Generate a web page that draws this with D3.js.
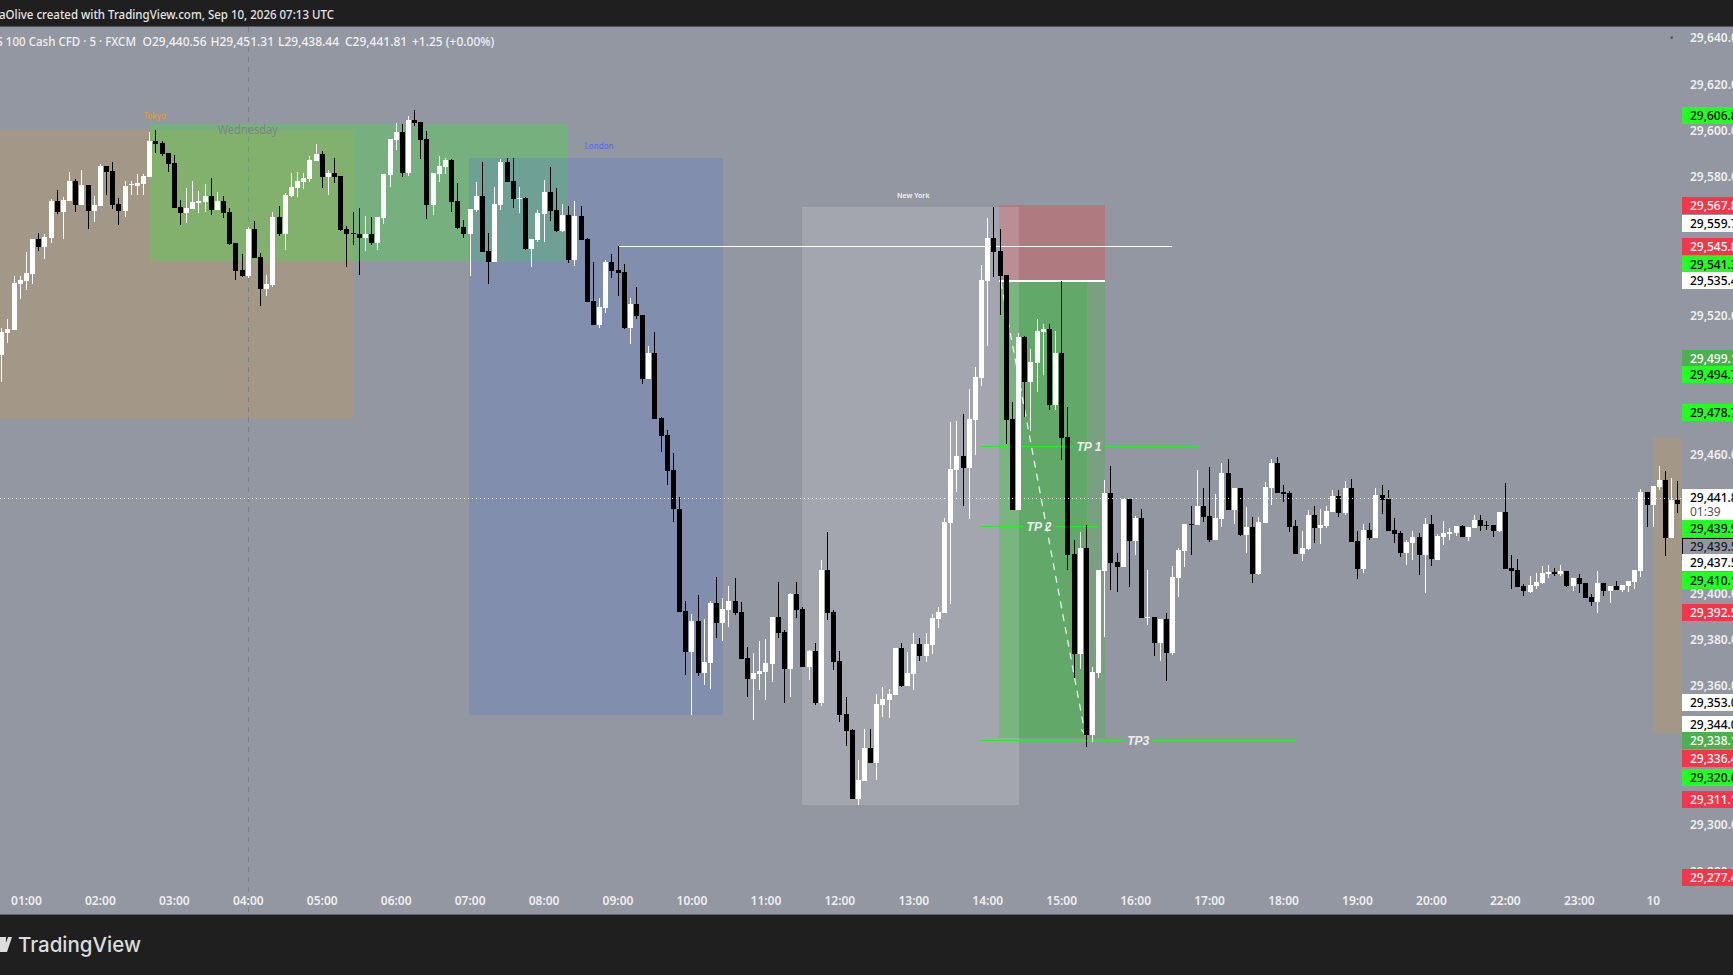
<!DOCTYPE html>
<html>
<head>
<meta charset="utf-8">
<title>US 100 Cash CFD</title>
<script src="https://d3js.org/d3.v7.min.js"></script>
<style>
  html, body { margin: 0; padding: 0; background: #1f1f1f; overflow: hidden; }
  svg { display: block; font-family: "Noto Sans", sans-serif; }
  .axis text { fill: #eeeeee; font-size: 12px; font-weight: 600; font-family: "Noto Sans", sans-serif; }
  .axis .domain { display: none; }
</style>
</head>
<body>
<svg id="chart" width="1733" height="975"></svg>
<script>
// 5 minute bars
var opens = [
29503.0,29512.5,29513.8,29533.7,29535.0,29538.1,29553.1,29549.7,29553.5,29569.6,
29564.8,29569.6,29578.2,29567.8,29576.5,29565.3,29567.4,29584.7,29582.6,29568.3,
29565.3,29576.5,29576.0,29576.9,29580.0,29595.5,29594.6,29590.3,29586.0,29567.0,
29564.4,29566.1,29568.7,29569.1,29571.7,29565.7,29569.6,29564.8,29551.4,29539.8,
29537.2,29557.4,29545.4,29531.5,29533.2,29562.7,29555.3,29571.7,29575.2,29577.8,
29579.1,29586.9,29589.9,29580.0,29581.7,29580.4,29557.4,29555.7,29555.3,29553.5,
29555.3,29551.4,29562.2,29580.8,29595.9,29599.3,29581.7,29604.6,29603.7,29596.3,
29567.8,29581.2,29584.3,29587.3,29569.6,29558.3,29555.3,29565.7,29571.7,29548.0,
29543.2,29567.8,29586.4,29578.2,29570.4,29570.9,29548.8,29552.7,29564.0,29573.5,
29565.7,29556.6,29563.5,29544.1,29563.1,29553.1,29526.4,29516.0,29523.4,29543.2,
29539.8,29538.9,29514.7,29525.1,29520.3,29492.7,29503.9,29475.8,29468.5,29453.4,
29436.5,29392.5,29374.7,29388.1,29365.7,29370.0,29395.9,29387.3,29392.9,29396.8,
29392.0,29372.2,29363.0,29365.2,29366.1,29369.6,29389.9,29383.4,29367.4,29399.8,
29393.3,29368.3,29375.2,29352.7,29410.2,29392.0,29370.9,29348.0,29341.0,29311.2,
29319.0,29333.3,29326.8,29351.8,29354.0,29356.2,29376.5,29360.0,29365.2,29378.1,
29373.0,29377.7,29389.0,29391.6,29430.5,29453.4,29459.4,29454.2,29475.0,29493.2,
29535.0,29553.5,29548.0,29537.6,29475.4,29436.1,29510.8,29491.3,29499.6,29513.0,
29514.3,29481.4,29503.9,29467.6,29417.1,29373.9,29419.7,29338.8,29365.7,29409.7,
29443.4,29413.6,29411.5,29440.8,29422.7,29432.6,29389.4,29389.9,29378.6,29389.0,
29374.3,29406.7,29418.4,29430.0,29429.6,29437.8,29433.5,29423.1,29432.2,29452.1,
29436.1,29445.6,29425.2,29428.7,29408.4,29430.5,29445.6,29456.4,29443.8,29443.4,
29429.1,29417.1,29419.2,29433.9,29428.3,29429.1,29435.2,29442.1,29434.8,29445.6,
29422.7,29410.6,29427.4,29424.0,29442.6,29440.8,29427.4,29426.1,29417.5,29421.8,
29424.4,29416.6,29430.0,29414.5,29424.4,29425.7,29426.1,29429.1,29424.4,29428.3,
29431.8,29429.6,29429.6,29427.0,29435.2,29411.0,29410.2,29403.2,29400.6,29403.2,
29404.5,29408.4,29409.3,29408.4,29409.7,29403.2,29406.7,29404.5,29398.5,29396.3,
29404.5,29401.1,29403.2,29401.5,29403.2,29404.9,29409.7,29443.8,29438.2,29446.0,
29449.0,29424.0,29440.4];
var highs = [
29514.7,29518.6,29537.2,29537.2,29547.5,29553.1,29555.7,29555.3,29570.4,29574.3,
29571.3,29582.1,29579.1,29583.0,29576.5,29571.7,29585.6,29584.7,29586.4,29570.9,
29578.2,29578.2,29581.2,29581.2,29599.3,29600.2,29595.5,29590.3,29589.4,29570.0,
29575.2,29578.2,29573.9,29576.9,29579.5,29573.5,29571.7,29566.5,29551.4,29546.7,
29558.3,29560.9,29547.1,29537.6,29564.8,29567.4,29573.0,29581.7,29582.1,29581.7,
29589.0,29594.2,29591.2,29583.0,29588.1,29580.4,29558.8,29564.8,29566.5,29563.1,
29562.7,29562.7,29581.2,29596.3,29603.3,29602.9,29606.3,29608.9,29603.7,29599.8,
29581.7,29589.0,29588.1,29587.7,29577.3,29561.4,29566.1,29577.8,29586.4,29555.7,
29575.6,29587.7,29588.1,29588.1,29575.6,29571.3,29553.1,29565.7,29578.6,29584.3,
29575.2,29568.3,29567.4,29569.6,29567.4,29553.5,29543.2,29527.6,29544.1,29546.7,
29550.1,29542.4,29527.6,29532.4,29520.3,29506.9,29513.0,29476.3,29470.6,29460.7,
29441.7,29396.8,29391.2,29399.4,29389.0,29396.8,29407.1,29398.1,29403.2,29406.7,
29396.3,29376.9,29374.3,29379.5,29380.3,29389.9,29404.9,29384.2,29400.2,29404.9,
29394.2,29375.6,29378.6,29414.5,29426.5,29392.9,29375.2,29355.3,29341.5,29328.1,
29341.5,29341.5,29356.6,29359.6,29358.7,29376.5,29378.6,29374.7,29382.9,29380.8,
29382.9,29391.2,29394.2,29432.6,29474.1,29474.5,29477.6,29488.3,29497.9,29541.9,
29562.2,29567.0,29557.4,29537.6,29482.7,29512.5,29511.2,29505.6,29518.6,29516.4,
29516.4,29513.4,29535.0,29480.6,29423.1,29426.5,29429.6,29368.3,29410.2,29449.0,
29455.1,29417.5,29440.8,29440.8,29433.5,29436.5,29410.2,29389.9,29389.0,29391.6,
29411.9,29419.7,29430.0,29437.8,29453.4,29445.6,29454.6,29443.0,29456.4,29458.1,
29445.6,29445.6,29437.4,29433.0,29433.0,29448.1,29458.1,29459.0,29446.8,29444.3,
29431.8,29427.0,29436.1,29437.8,29436.5,29437.8,29444.7,29444.7,29448.6,29449.5,
29427.0,29430.0,29430.5,29445.6,29446.8,29444.7,29432.6,29427.0,29423.1,29427.0,
29426.1,29432.6,29433.9,29425.7,29431.3,29428.3,29429.1,29429.6,29428.7,29433.9,
29433.9,29431.3,29429.6,29435.2,29447.7,29416.6,29414.9,29404.1,29407.5,29408.8,
29411.9,29412.4,29411.0,29412.4,29409.7,29406.7,29408.4,29404.5,29399.8,29409.7,
29404.5,29403.2,29405.4,29403.6,29405.4,29410.2,29445.1,29443.8,29446.4,29455.1,
29453.0,29449.9,29448.6];
var lows = [
29491.3,29508.2,29513.8,29527.2,29531.1,29533.7,29548.0,29544.5,29551.4,29564.0,
29553.1,29569.6,29564.8,29567.8,29557.4,29560.5,29567.4,29572.1,29566.1,29559.2,
29562.7,29572.1,29572.1,29572.1,29580.0,29590.3,29589.0,29582.1,29566.5,29559.2,
29560.1,29566.1,29564.4,29564.8,29563.5,29565.7,29562.2,29550.6,29535.4,29536.7,
29536.3,29544.9,29524.2,29528.5,29532.4,29554.4,29548.4,29571.3,29571.3,29574.7,
29577.8,29586.9,29575.2,29572.1,29577.3,29556.6,29541.0,29550.6,29537.6,29548.0,
29550.6,29548.4,29559.6,29575.6,29591.6,29580.0,29580.4,29602.0,29587.7,29561.8,
29563.5,29577.8,29581.2,29564.8,29557.4,29553.5,29537.2,29564.8,29547.5,29533.7,
29543.2,29565.7,29577.8,29566.5,29564.4,29548.4,29541.0,29551.8,29551.8,29560.9,
29556.2,29556.2,29542.8,29541.5,29552.7,29525.9,29516.0,29514.7,29521.2,29536.3,
29528.5,29514.3,29507.8,29518.6,29490.5,29492.7,29475.4,29461.1,29446.8,29430.9,
29392.0,29364.8,29347.5,29364.4,29360.5,29358.7,29380.8,29379.5,29385.5,29390.7,
29371.7,29355.3,29345.4,29358.3,29354.0,29361.7,29380.8,29352.7,29355.3,29389.4,
29368.3,29362.6,29351.8,29351.4,29388.6,29367.0,29344.5,29334.1,29311.2,29308.6,
29319.0,29326.8,29319.4,29346.7,29346.2,29356.2,29359.6,29360.0,29358.3,29370.9,
29370.4,29373.9,29385.1,29391.6,29395.5,29443.8,29437.8,29432.2,29459.8,29489.6,
29506.9,29536.7,29520.3,29464.6,29436.1,29436.1,29476.3,29470.2,29487.0,29494.4,
29479.3,29479.3,29457.7,29410.2,29363.5,29367.4,29333.7,29335.8,29363.5,29381.2,
29401.5,29400.6,29411.5,29402.8,29416.6,29389.4,29386.4,29373.0,29370.9,29362.2,
29373.4,29398.5,29411.5,29416.6,29429.6,29430.9,29422.2,29423.1,29428.7,29436.1,
29430.0,29424.8,29417.5,29404.5,29408.0,29430.5,29438.2,29443.4,29439.5,29426.5,
29417.1,29414.1,29418.8,29421.8,29421.4,29428.3,29435.2,29433.0,29433.9,29422.2,
29406.3,29408.8,29423.1,29424.0,29434.3,29427.0,29421.8,29415.8,29412.4,29414.5,
29408.0,29400.2,29411.9,29414.5,29421.0,29423.1,29424.8,29424.4,29422.7,29428.3,
29427.0,29427.4,29424.4,29426.5,29410.6,29401.9,29402.8,29399.0,29400.2,29401.9,
29404.1,29406.7,29407.5,29407.5,29402.8,29401.1,29400.2,29398.1,29394.6,29391.6,
29399.0,29395.9,29401.5,29400.6,29400.6,29401.9,29407.1,29428.7,29428.7,29444.7,
29416.2,29424.0,29434.8];
var closes = [
29512.9,29514.3,29534.1,29535.4,29538.5,29553.1,29549.7,29554.0,29569.6,29564.8,
29570.0,29578.2,29567.8,29576.5,29565.3,29567.8,29584.7,29582.1,29567.8,29565.3,
29576.0,29576.9,29577.3,29580.4,29595.5,29594.2,29589.9,29585.6,29566.5,29564.4,
29566.5,29569.1,29569.6,29571.7,29565.7,29569.6,29564.4,29551.0,29539.3,29537.2,
29557.4,29544.9,29531.5,29533.7,29562.7,29555.3,29572.1,29575.6,29578.2,29579.5,
29587.3,29589.9,29580.0,29581.7,29580.0,29557.0,29555.3,29555.3,29553.5,29555.3,
29551.4,29562.7,29581.2,29596.3,29599.3,29581.7,29604.6,29603.3,29595.9,29567.8,
29581.7,29584.7,29587.3,29569.1,29557.9,29555.3,29566.1,29571.7,29547.5,29543.2,
29568.3,29586.4,29577.8,29570.4,29570.9,29548.8,29553.1,29564.4,29573.5,29565.3,
29556.6,29563.5,29544.1,29563.1,29552.7,29525.9,29516.0,29523.8,29543.2,29539.3,
29538.5,29514.7,29525.1,29519.8,29492.7,29503.9,29475.4,29468.0,29453.0,29436.5,
29392.0,29374.7,29388.1,29365.7,29370.4,29395.9,29387.3,29393.3,29396.8,29391.6,
29371.7,29363.0,29365.7,29366.5,29370.0,29389.9,29382.9,29367.4,29399.8,29392.9,
29368.3,29375.2,29352.7,29410.2,29391.6,29370.4,29347.5,29340.6,29311.2,29319.4,
29333.3,29326.8,29352.3,29354.4,29356.6,29376.5,29360.0,29365.7,29378.1,29373.0,
29378.1,29389.4,29392.0,29430.9,29453.8,29459.4,29454.2,29475.4,29493.6,29535.4,
29553.5,29547.5,29537.2,29475.0,29436.1,29510.8,29491.3,29500.0,29513.4,29514.3,
29481.4,29503.9,29467.2,29416.6,29373.9,29419.7,29338.8,29366.1,29410.2,29443.4,
29413.2,29411.5,29440.8,29422.7,29432.6,29389.4,29389.9,29378.6,29389.0,29374.3,
29407.1,29418.8,29430.0,29429.6,29437.8,29433.0,29423.1,29432.6,29452.1,29436.1,
29445.6,29425.2,29428.7,29408.4,29430.9,29446.0,29456.4,29443.4,29443.0,29428.7,
29417.1,29419.7,29433.9,29428.3,29429.6,29435.6,29442.1,29434.8,29445.6,29422.2,
29410.6,29427.4,29424.0,29442.6,29440.4,29427.0,29425.7,29417.5,29422.2,29424.4,
29416.6,29430.0,29414.9,29424.8,29426.1,29426.5,29429.1,29424.4,29428.7,29431.8,
29429.1,29429.1,29427.0,29435.2,29410.6,29409.7,29402.8,29401.1,29403.6,29404.9,
29408.8,29409.3,29408.4,29409.7,29403.2,29406.7,29404.1,29398.1,29396.3,29404.5,
29401.1,29403.2,29401.5,29403.6,29405.4,29410.2,29443.8,29438.2,29446.4,29449.0,
29424.0,29440.4,29438.6];

// axis ticks
var priceTicks = [29640, 29620, 29600, 29580, 29520, 29460, 29400, 29380, 29360, 29300, 29280];
var timeTickBars = [4, 16, 28, 40, 52, 64, 76, 88, 100, 112, 124, 136, 148, 160, 172, 184, 196, 208, 220, 232, 244, 256, 268];
var timeLabels = ["01:00", "02:00", "03:00", "04:00", "05:00", "06:00", "07:00", "08:00", "09:00", "10:00", "11:00", "12:00",
  "13:00", "14:00", "15:00", "16:00", "17:00", "18:00", "19:00", "20:00", "22:00", "23:00", "10"];

// price tags on the right, priceTagAt is where they sit after the platform spreads them out
var priceTagText = ["29,606.8", "29,567.8", "29,559.7", "29,545.8", "29,541.3", "29,535.4", "29,499.1", "29,494.7", "29,478.7",
  "29,441.8", "29,439.9", "29,439.5", "29,437.5", "29,410.1", "29,392.5", "29,353.0", "29,344.0", "29,338.1", "29,336.4",
  "29,320.6", "29,311.1", "29,277.4"];
var priceTagAt = [29606.5, 29567.2, 29559.5, 29549.5, 29542.1, 29534.8, 29501.5, 29494.2, 29478.2,
  29441.3, 29427.7, 29420.3, 29413.0, 29405.6, 29391.8, 29352.5, 29343.4, 29336.1, 29328.7, 29320.1, 29310.6, 29276.9];
var priceTagKind = ["g", "r", "w", "r", "g", "w", "d", "g", "g", "w", "g", "o", "w", "g", "r", "w", "w", "d", "r", "g", "r", "r"];

// session boxes: first bar, last bar, top price, bottom price
var tokyoBox = [-1, 57.0, 29600.2, 29475.2];
var tokyoBox2 = [268.0, 272.6, 29467.6, 29339.9];
var wednesdayBox = [24.1, 92.0, 29602.9, 29543.6];
var londonBox = [75.9, 117.1, 29588.1, 29347.5];
var newYorkBox = [130.0, 165.2, 29567.0, 29308.6];
var stopBox = [161.9, 179.1, 29567.8, 29535.2];
var targetBox = [161.9, 179.1, 29535.2, 29337.6];
var targetBox2 = [161.9, 176.2, 29535.2, 29337.6];

var highLine = [100.0, 190.0, 29550.0];
var entryLine = [161.9, 179.1, 29535.2];
var moveLine = [[162.2, 29534.6], [175.9, 29339.0]];
var lastPrice = 29441.1;
var dayLineBar = 40.1;

var tpNames = ["TP 1", "TP 2", "TP3"];
var tpPrice = [29463.6, 29429.0, 29336.6];
var tpStart = [158.9, 158.9, 158.9];
var tpGapFrom = [173.9, 165.8, 182.2];
var tpGapTo = [179.1, 171.0, 186.7];
var tpEnd = [194.0, 178.0, 210.1];
var tpLabelBar = [176.5, 168.4, 184.5];

var svg = d3.select("#chart");

var x = d3.scaleLinear().domain([0, 272]).range([1.3, 1677.4]);
var y = d3.scaleLinear().domain([29656.4, 29300]).range([0, 825]);

var plotRight = 1681, plotTop = 27, plotBottom = 914;
var bg = "#9397a1";

function box(g, b, fill) {
  g.append("rect")
    .attr("x", Math.round(x(b[0])))
    .attr("y", Math.round(y(b[2])))
    .attr("width", Math.round(x(b[1])) - Math.round(x(b[0])))
    .attr("height", Math.round(y(b[3])) - Math.round(y(b[2])))
    .attr("fill", fill);
}

function drawFrame() {
  svg.append("rect").attr("width", 1733).attr("height", 975).attr("fill", "#1f1f1f");
  svg.append("rect").attr("y", plotTop).attr("width", 1733).attr("height", plotBottom - plotTop).attr("fill", bg);
  svg.append("rect").attr("y", plotTop - 1).attr("width", 1733).attr("height", 1).attr("fill", "#55575c");
  svg.append("rect").attr("y", plotBottom).attr("width", 1733).attr("height", 1).attr("fill", "#5f626a");
  svg.append("defs").append("clipPath").attr("id", "plot")
    .append("rect").attr("y", plotTop).attr("width", plotRight).attr("height", plotBottom - plotTop);
}

function drawSessions() {
  var g = svg.append("g").attr("clip-path", "url(#plot)").attr("shape-rendering", "crispEdges");
  box(g, tokyoBox, "#a39888");
  box(g, tokyoBox2, "#a39888");

  g.append("line")
    .attr("x1", Math.round(x(dayLineBar)) + 0.5).attr("x2", Math.round(x(dayLineBar)) + 0.5)
    .attr("y1", plotTop).attr("y2", plotBottom)
    .attr("stroke", "#7b7e8a").attr("stroke-dasharray", "5,5");

  box(g, wednesdayBox, "rgba(57,234,51,0.3)");
  box(g, londonBox, "rgba(93,124,204,0.3)");
  box(g, stopBox, "rgba(244,60,54,0.3)");
  box(g, targetBox, "rgba(76,175,80,0.38)");
  box(g, targetBox2, "rgba(76,175,80,0.5)");
  box(g, newYorkBox, "rgba(255,255,255,0.15)");
}

function drawLines() {
  var g = svg.append("g").attr("clip-path", "url(#plot)");

  g.append("rect").attr("shape-rendering", "crispEdges")
    .attr("x", x(highLine[0])).attr("y", Math.round(y(highLine[2])))
    .attr("width", x(highLine[1]) - x(highLine[0])).attr("height", 1).attr("fill", "#fff");

  g.append("rect").attr("shape-rendering", "crispEdges")
    .attr("x", x(entryLine[0])).attr("y", Math.round(y(entryLine[2])) - 1)
    .attr("width", x(entryLine[1]) - x(entryLine[0])).attr("height", 2).attr("fill", "#fff");

  tpNames.forEach(function (name, i) {
    var py = Math.round(y(tpPrice[i]));
    [[tpStart[i], tpGapFrom[i]], [tpGapTo[i], tpEnd[i]]].forEach(function (seg) {
      g.append("rect").attr("shape-rendering", "crispEdges")
        .attr("x", x(seg[0])).attr("y", py)
        .attr("width", x(seg[1]) - x(seg[0])).attr("height", 1).attr("fill", "#22f022");
    });
    g.append("text")
      .attr("x", x(tpLabelBar[i])).attr("y", py + 4.5)
      .attr("text-anchor", "middle")
      .attr("font-family", "'Liberation Sans', sans-serif")
      .attr("font-style", "italic").attr("font-weight", 700).attr("font-size", 12)
      .attr("fill", "#ececec").text(name);
  });

  svg.select("defs").append("marker").attr("id", "arrow")
    .attr("markerWidth", 8).attr("markerHeight", 8).attr("refX", 7).attr("refY", 4)
    .attr("orient", "auto").attr("markerUnits", "userSpaceOnUse")
    .append("path").attr("d", "M1,1 L7,4 L1,7").attr("fill", "none")
    .attr("stroke", "#fff").attr("stroke-opacity", 0.85);

  g.append("line")
    .attr("x1", x(moveLine[0][0])).attr("y1", y(moveLine[0][1]))
    .attr("x2", x(moveLine[1][0])).attr("y2", y(moveLine[1][1]))
    .attr("stroke", "#fff").attr("stroke-opacity", 0.85).attr("stroke-width", 1.3)
    .attr("stroke-dasharray", "7,6").attr("marker-end", "url(#arrow)");
}

function drawCandles() {
  var g = svg.append("g").attr("clip-path", "url(#plot)").attr("shape-rendering", "crispEdges");
  var bars = d3.range(opens.length);
  var colour = function (i) { return closes[i] >= opens[i] ? "#ffffff" : "#000000"; };

  g.selectAll(".wick").data(bars).enter().append("rect")
    .attr("class", "wick")
    .attr("x", function (i) { return Math.round(x(i)); })
    .attr("y", function (i) { return Math.round(y(highs[i])); })
    .attr("width", 1)
    .attr("height", function (i) { return Math.round(y(lows[i])) - Math.round(y(highs[i])); })
    .attr("fill", colour);

  g.selectAll(".body").data(bars).enter().append("rect")
    .attr("class", "body")
    .attr("x", function (i) { return Math.round(x(i)) - 2; })
    .attr("y", function (i) { return Math.round(y(Math.max(opens[i], closes[i]))); })
    .attr("width", 5)
    .attr("height", function (i) {
      return Math.max(1, Math.round(y(Math.min(opens[i], closes[i]))) - Math.round(y(Math.max(opens[i], closes[i]))));
    })
    .attr("fill", colour);

  // last price line goes over the bars
  svg.append("line").attr("clip-path", "url(#plot)")
    .attr("x1", 0).attr("x2", plotRight)
    .attr("y1", Math.round(y(lastPrice)) + 0.5).attr("y2", Math.round(y(lastPrice)) + 0.5)
    .attr("stroke", "#fff").attr("stroke-dasharray", "1,3").attr("shape-rendering", "crispEdges");
}

function drawAxes() {
  var timeAxis = d3.axisBottom(x)
    .tickValues(timeTickBars)
    .tickSize(0).tickPadding(0)
    .tickFormat(function (d, i) { return timeLabels[i]; });
  svg.append("g").attr("class", "axis").attr("transform", "translate(0,896)").call(timeAxis);

  var priceAxis = d3.axisRight(y)
    .tickValues(priceTicks)
    .tickSize(0).tickPadding(0)
    .tickFormat(d3.format(",.1f"));
  svg.append("g").attr("class", "axis").attr("transform", "translate(1690,0)").call(priceAxis);

  var tagFill = { g: "#22ff22", r: "#f5364a", w: "#ffffff", d: "#4caf50", o: bg };
  var tagText = { g: "#000000", r: "#ffffff", w: "#000000", d: "#ffffff", o: "#1a1a1a" };
  var tags = svg.append("g");
  priceTagText.forEach(function (t, i) {
    var py = Math.round(y(priceTagAt[i])) - 1;
    var k = priceTagKind[i];
    tags.append("rect")
      .attr("x", 1682).attr("y", py - 8).attr("width", 51).attr("height", t == "29,441.8" ? 31 : 17)
      .attr("fill", tagFill[k])
      .attr("stroke", k == "o" ? "#000" : "none").attr("shape-rendering", "crispEdges");
    tags.append("text")
      .attr("x", 1690).attr("y", py + 4.5)
      .attr("font-size", 12).attr("font-weight", 500)
      .attr("fill", tagText[k]).text(t);
    if (t == "29,441.8") {
      tags.append("text")
        .attr("x", 1690).attr("y", py + 19)
        .attr("font-size", 12).attr("fill", "#555").text("01:39");
    }
  });
}

function drawTexts() {
  svg.append("text").attr("x", -1).attr("y", 19)
    .attr("textLength", 335).attr("lengthAdjust", "spacingAndGlyphs")
    .attr("font-size", 12).attr("font-weight", 500).attr("fill", "#e4e4e4")
    .text("aOlive created with TradingView.com, Sep 10, 2026 07:13 UTC");

  svg.append("text").attr("x", -12).attr("y", 46)
    .attr("textLength", 148).attr("lengthAdjust", "spacingAndGlyphs")
    .attr("font-size", 12).attr("font-weight", 500).attr("fill", "#f0f0f0")
    .text("US 100 Cash CFD \u00b7 5 \u00b7 FXCM");

  var legendText = ["O29,440.56", "H29,451.31", "L29,438.44", "C29,441.81", "+1.25 (+0.00%)"];
  var legendX = [142.5, 210.5, 278, 345, 412];
  legendText.forEach(function (t, i) {
    svg.append("text").attr("x", legendX[i]).attr("y", 46)
      .attr("font-size", 12).attr("font-weight", 500).attr("fill", "#f0f0f0").text(t);
  });

  svg.append("text").attr("x", x(24.9)).attr("y", y(29605)).attr("text-anchor", "middle")
    .attr("font-size", 8).attr("font-weight", 500).attr("fill", "#e8982a").text("Tokyo");
  svg.append("text").attr("x", x(97)).attr("y", y(29592.1)).attr("text-anchor", "middle")
    .attr("font-size", 8).attr("font-weight", 500).attr("fill", "#4f72e6").text("London");
  svg.append("text").attr("x", x(148)).attr("y", y(29570.8)).attr("text-anchor", "middle")
    .attr("font-size", 7).attr("font-weight", 600).attr("fill", "#f4f4f4").text("New York");
  svg.append("text").attr("x", x(40)).attr("y", y(29598.5)).attr("text-anchor", "middle")
    .attr("textLength", 60).attr("lengthAdjust", "spacingAndGlyphs")
    .attr("font-size", 12.5).attr("fill", "#7e8284").text("Wednesday");

  // tiny dot near the top right of the plot
  svg.append("rect").attr("x", x(270.9)).attr("y", y(29640.6)).attr("width", 2).attr("height", 2).attr("fill", "#3a3d46");

  // TradingView mark, cut by the left edge
  svg.append("path").attr("fill", "#dcdcdc").attr("d", "M-2,937 H6 V952 H-2 Z M8,937 H12 L7,952 H3 Z");
  svg.append("text").attr("x", 18).attr("y", 952)
    .attr("font-family", "Inter, sans-serif").attr("font-size", 20.5).attr("font-weight", 500)
    .attr("fill", "#dcdcdc").text("TradingView");
}

drawFrame();
drawSessions();
drawLines();
drawCandles();
drawAxes();
drawTexts();
</script>
</body>
</html>
